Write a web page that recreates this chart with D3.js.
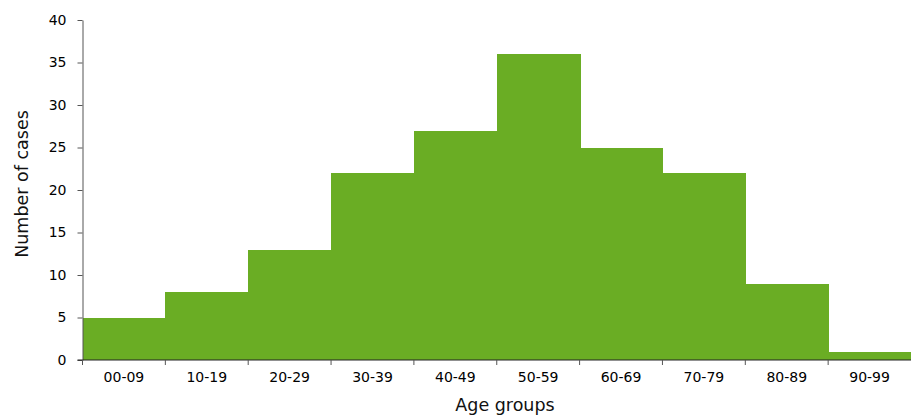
<!DOCTYPE html>
<html><head><meta charset="utf-8">
<script src="https://cdn.jsdelivr.net/npm/d3@7"></script>
<style>body{margin:0;background:#fff}svg{display:block}text{font-family:"DejaVu Sans",Verdana,sans-serif}</style>
</head><body><svg id="c" width="911" height="416"></svg>
<script>
const categories = ["00-09","10-19","20-29","30-39","40-49","50-59","60-69","70-79","80-89","90-99"];
const cases = [5, 8, 13, 22, 27, 36, 25, 22, 9, 1];
const yTicks = [0,5,10,15,20,25,30,35,40];

const svg = d3.select("#c");
const m = {l:82.5, r:911, t:20, b:360};
const x = d3.scaleBand().domain(categories).range([m.l, m.r]).padding(0);
const y = d3.scaleLinear().domain([0,40]).range([m.b, m.t]);

svg.append("g").attr("shape-rendering", "crispEdges").selectAll("rect").data(categories).join("rect")
  .attr("x", d => x(d)).attr("y", (d,i) => y(cases[i]))
  .attr("width", x.bandwidth() + 1).attr("height", (d,i) => y(0) - y(cases[i]))
  .attr("fill", "#6aad24");

const ya = svg.append("g").attr("transform", `translate(${m.l},0)`)
  .call(d3.axisLeft(y).tickValues(yTicks).tickSize(5).tickPadding(11).tickSizeOuter(0));
ya.select(".domain").attr("stroke", "#555");
ya.selectAll(".tick line").attr("stroke", "#555");
ya.selectAll("text").attr("font-size", 14).attr("fill", "#000").attr("font-family", "DejaVu Sans");

// x axis with ticks at band boundaries
const xa = svg.append("g").attr("transform", `translate(0,${m.b})`);
xa.append("line").attr("x1", m.l - 5).attr("x2", m.r).attr("stroke", "#222").attr("stroke-width", 1.2);
const bounds = categories.map(d => x(d));
xa.selectAll("line.t").data(bounds).join("line").attr("class","t")
  .attr("x1", d => d).attr("x2", d => d).attr("y1", 0).attr("y2", 5).attr("stroke", "#555");
xa.selectAll("text").data(categories).join("text")
  .attr("x", d => x(d) + x.bandwidth()/2).attr("y", 22)
  .attr("text-anchor", "middle").attr("font-size", 14).attr("fill", "#000").text(d => d);

svg.append("text").attr("x", 505).attr("y", 411).attr("text-anchor", "middle")
  .attr("font-size", 17.5).attr("fill", "#111").text("Age groups");
svg.append("text").attr("transform", "translate(28,184) rotate(-90)").attr("text-anchor", "middle")
  .attr("font-size", 17.5).attr("fill", "#111").text("Number of cases");
</script></body></html>
